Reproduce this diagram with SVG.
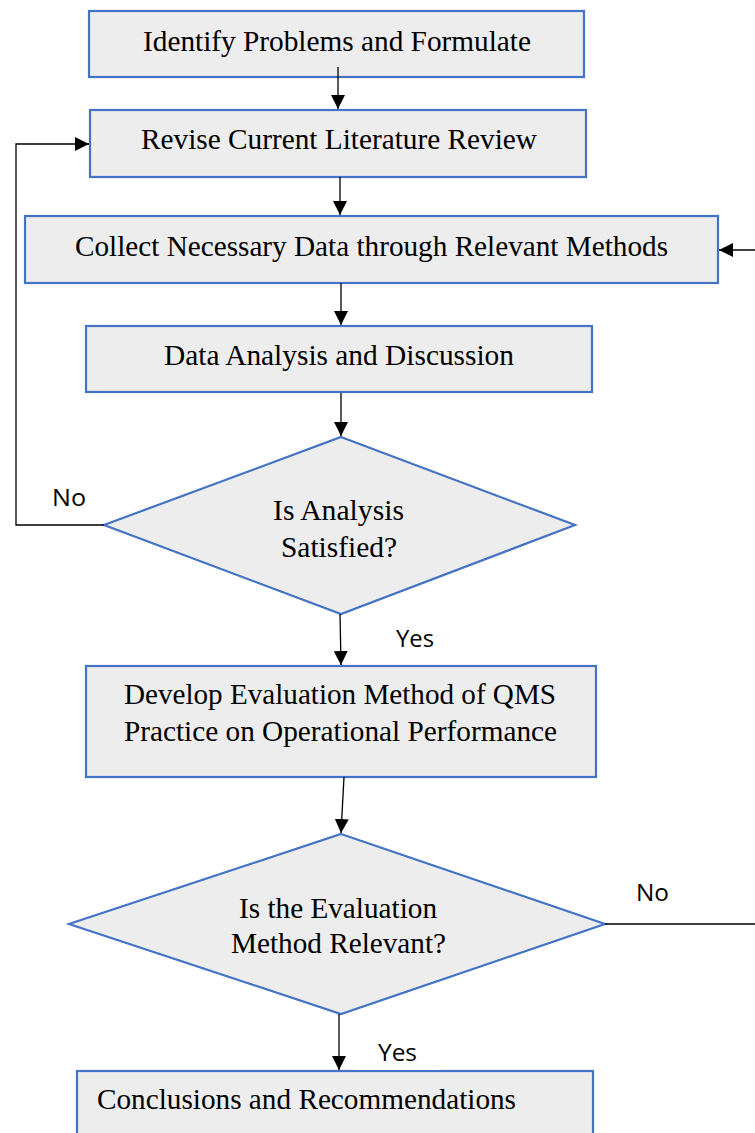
<svg xmlns="http://www.w3.org/2000/svg" width="755" height="1133" viewBox="0 0 755 1133">
<style>
.box{fill:#ededed;stroke:#4472c4;stroke-width:2.2}
.t{font-family:"Liberation Serif",serif;font-size:30px;fill:#000}
.s{font-family:"Open Sans","Liberation Sans",sans-serif;font-size:24px;fill:#000}
.c{fill:none;stroke:#000;stroke-width:1.3}
</style>
<defs>
<marker id="ah" viewBox="0 0 10 10" refX="10" refY="5" markerWidth="14" markerHeight="14" markerUnits="userSpaceOnUse" orient="auto">
<path d="M0,0 L10,5 L0,10 z" fill="#000"/>
</marker>
</defs>
<rect width="755" height="1133" fill="#fff"/>
<g id="n1"><rect class="box" x="89" y="11" width="495" height="66"/><text class="t" x="143" y="51" textLength="388" lengthAdjust="spacingAndGlyphs">Identify Problems and Formulate</text></g>
<g id="n2"><rect class="box" x="90" y="110" width="496" height="67"/><text class="t" x="141" y="149" textLength="396" lengthAdjust="spacingAndGlyphs">Revise Current Literature Review</text></g>
<g id="n3"><rect class="box" x="25" y="216" width="693" height="67"/><text class="t" x="75" y="256" textLength="593" lengthAdjust="spacingAndGlyphs">Collect Necessary Data through Relevant Methods</text></g>
<g id="n4"><rect class="box" x="86" y="326" width="506" height="66"/><text class="t" x="164" y="365" textLength="350" lengthAdjust="spacingAndGlyphs">Data Analysis and Discussion</text></g>
<g id="d1"><polygon class="box" points="341,437 575,525 341,614 104,525"/><text class="t" x="273" y="520" textLength="131" lengthAdjust="spacingAndGlyphs">Is Analysis</text><text class="t" x="281" y="557" textLength="116" lengthAdjust="spacingAndGlyphs">Satisfied?</text></g>
<g id="n5"><rect class="box" x="86" y="666" width="510" height="111"/><text class="t" x="124" y="704" textLength="432" lengthAdjust="spacingAndGlyphs">Develop Evaluation Method of QMS</text><text class="t" x="124" y="741" textLength="433" lengthAdjust="spacingAndGlyphs">Practice on Operational Performance</text></g>
<g id="d2"><polygon class="box" points="341,834 605,924 341,1014 69,924"/><text class="t" x="239" y="918" textLength="198" lengthAdjust="spacingAndGlyphs">Is the Evaluation</text><text class="t" x="231" y="953" textLength="215" lengthAdjust="spacingAndGlyphs">Method Relevant?</text></g>
<g id="n6"><rect class="box" x="77" y="1071" width="516" height="80"/><text class="t" x="97" y="1109" textLength="419" lengthAdjust="spacingAndGlyphs">Conclusions and Recommendations</text></g>
<g id="connectors">
<line class="c" x1="338" y1="67" x2="338" y2="109" marker-end="url(#ah)"/>
<line class="c" x1="340" y1="177" x2="340" y2="215" marker-end="url(#ah)"/>
<line class="c" x1="341" y1="283" x2="341" y2="325" marker-end="url(#ah)"/>
<line class="c" x1="341" y1="393" x2="341" y2="436" marker-end="url(#ah)"/>
<line class="c" x1="340" y1="614" x2="341" y2="665" marker-end="url(#ah)"/>
<line class="c" x1="344" y1="777" x2="341" y2="833" marker-end="url(#ah)"/>
<line class="c" x1="339" y1="1014" x2="339" y2="1070" marker-end="url(#ah)"/>
<polyline class="c" points="104,525 16,525 16,144 89,144" marker-end="url(#ah)"/>
<polyline class="c" points="605,924 760,924 760,250 719,250" marker-end="url(#ah)"/>
<text class="s" x="52" y="506" textLength="34" lengthAdjust="spacingAndGlyphs">No</text>
<text class="s" x="396" y="647" textLength="38" lengthAdjust="spacingAndGlyphs">Yes</text>
<text class="s" x="636" y="901" textLength="33" lengthAdjust="spacingAndGlyphs">No</text>
<rect x="354" y="1036" width="86" height="34" fill="#fff"/>
<text class="s" x="378" y="1061" textLength="39" lengthAdjust="spacingAndGlyphs">Yes</text>
</g>
</svg>
